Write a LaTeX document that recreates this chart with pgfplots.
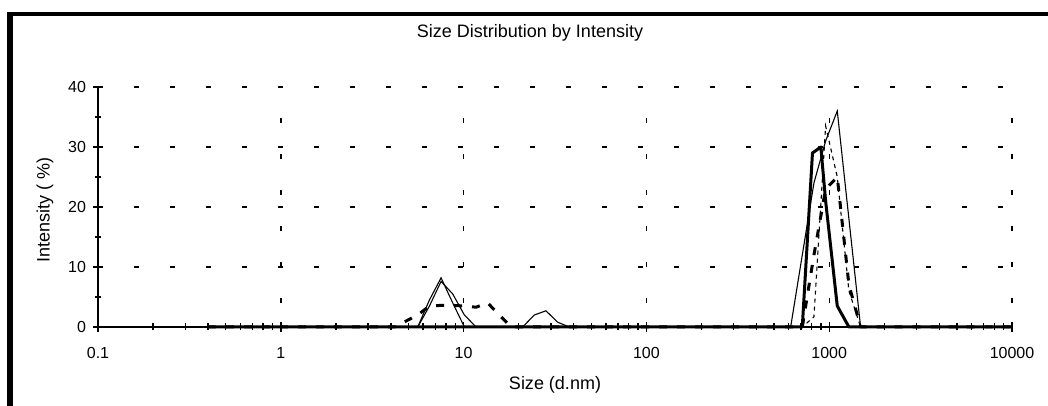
\documentclass[border=0pt]{standalone}
\usepackage{fontspec}
\setmainfont{Liberation Sans}
\usepackage{pgfplots}
\pgfplotsset{compat=1.18}

\begin{document}
\begin{tikzpicture}
\useasboundingbox (0,0) rectangle (524pt,203pt);
% frame of the report panel
\fill[black] (3.5pt,0) rectangle (6.5pt,197pt);
\fill[black] (3.5pt,195pt) rectangle (524pt,197pt);

\begin{axis}[
  at={(49pt,39.5pt)}, anchor=south west,
  scale only axis, width=457pt, height=120pt,
  xmode=log, xmin=0.1, xmax=10000, ymin=0, ymax=40,
  axis lines*=left,
  axis line style={-, line width=0.8pt},
  xtick={0.1,1,10,100,1000,10000},
  xticklabels={0.1,1,10,100,1000,10000},
  minor xtick={0.2,0.3,0.4,0.5,0.6,0.7,0.8,0.9,
               2,3,4,5,6,7,8,9,20,30,40,50,60,70,80,90,
               200,300,400,500,600,700,800,900,
               2000,3000,4000,5000,6000,7000,8000,9000},
  ytick={0,10,20,30,40},
  minor y tick num=1,
  tick align=center,
  major tick length=5pt, minor tick length=3.5pt,
  every tick/.style={black, line width=0.7pt},
  /pgf/number format/assume math mode=true,
  tick label style={font=\fontsize{8}{9}\selectfont},
  xticklabel style={yshift=-4pt},
  xmajorgrids, ymajorgrids,
  major x grid style={black, line width=0.7pt, dash pattern=on 2.5pt off 15.5pt, dash phase=6pt},
  major y grid style={black, line width=0.7pt, dash pattern=on 2.5pt off 15.5pt},
  clip=false,
]
% record 1: thin solid
\addplot[black, line width=0.55pt] coordinates {
  (0.4,0) (5.615,0) (6.503,4.5) (7.531,8.2) (8.723,4) (10.10,0)
  (615.3,0) (712.5,12) (825.0,24) (955.9,31) (1107,36) (1282,18) (1485,0) (10000,0)
};
% record 2: thin solid
\addplot[black, line width=0.55pt] coordinates {
  (0.4,0) (5.615,0) (6.503,3.5) (7.531,7.6) (8.723,5.5) (10.10,2) (11.70,0)
  (21.04,0) (24.37,2) (28.22,2.7) (32.68,0.8) (37.85,0) (10000,0)
};
% record 3: thin dashed
\addplot[black, line width=0.55pt, dash pattern=on 2pt off 2pt] coordinates {
  (0.4,0) (712.5,0) (825.0,1.7) (955.9,33.5) (1107,25) (1282,6) (1485,0) (10000,0)
};
% record 4: thick dashed
\addplot[black, line width=1.5pt, line join=round, dash pattern=on 4pt off 5pt] coordinates {
  (0.4,0) (4.187,0) (4.850,1) (5.615,2) (6.503,3.5) (7.531,3.6) (8.723,3.6)
  (10.10,3.5) (11.70,3.3) (13.55,4) (15.69,2) (18.17,0)
  (712.5,0) (825.0,12) (955.9,23) (1107,25) (1282,7) (1485,0) (10000,0)
};
% record 5: thick solid
\addplot[black, line width=1.5pt, line join=round] coordinates {
  (0.4,0) (712.5,0) (810,29) (900,30) (955.9,21) (1107,3.5) (1282,0) (10000,0)
};
\end{axis}

\node[font=\fontsize{9}{10}\selectfont] at (265pt,186.5pt) {Size Distribution by Intensity};
\node[font=\fontsize{9}{10}\selectfont] at (277.5pt,10.5pt) {Size (d.nm)};
\node[font=\fontsize{9}{10}\selectfont, rotate=90] at (22.5pt,98pt) {Intensity ( \%)};
\end{tikzpicture}
\end{document}
